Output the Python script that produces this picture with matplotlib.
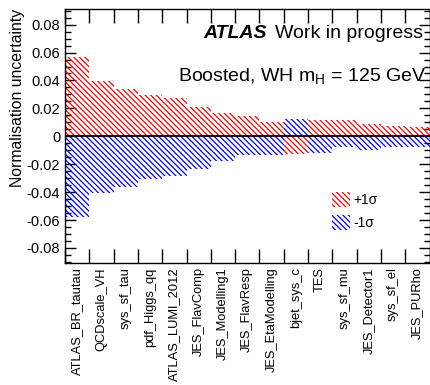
import matplotlib
matplotlib.use("Agg")
import matplotlib.pyplot as plt
import numpy as np
from matplotlib.ticker import FixedLocator, MultipleLocator, FuncFormatter
from matplotlib.patches import Patch

categories = ["ATLAS_BR_tautau", "QCDscale_VH", "sys_sf_tau", "pdf_Higgs_qq",
              "ATLAS_LUMI_2012", "JES_FlavComp", "JES_Modelling1", "JES_FlavResp",
              "JES_EtaModelling", "bjet_sys_c", "TES", "sys_sf_mu",
              "JES_Detector1", "sys_sf_el", "JES_PURho"]
up_values = [0.0566, 0.0394, 0.0337, 0.0294, 0.0277, 0.0208, 0.0168, 0.0143,
             0.0099, -0.0125, 0.0117, 0.0117, 0.0086, 0.0076, 0.0065]
down_values = [-0.0578, -0.0404, -0.0363, -0.0306, -0.0284, -0.0232, -0.0176, -0.0132,
               -0.0132, 0.0124, -0.0119, -0.0079, -0.0097, -0.0079, -0.0079]

plt.rcParams['font.family'] = ['Liberation Sans', 'DejaVu Sans']
plt.rcParams['hatch.linewidth'] = 0.9

fig = plt.figure(figsize=(4.3, 3.85), dpi=100)
ax = fig.add_axes([65/430, 1-263.3/385, (429.5-65)/430, (263.3-9.3)/385])

n = len(categories)
x = np.arange(n)
hatch = '\\\\\\\\\\\\'
ax.bar(x, up_values, width=1.0, align='center', facecolor='none', edgecolor='red',
       linewidth=0, hatch=hatch, zorder=2)
ax.bar(x, down_values, width=1.0, align='center', facecolor='none', edgecolor='blue',
       linewidth=0, hatch=hatch, zorder=2)
ax.axhline(0, color='black', lw=1.3, zorder=3)

ax.set_xlim(-0.5, n - 0.5)
ax.set_ylim(-0.091, 0.091)

ax.set_xticks(x)
ax.set_xticklabels(categories, rotation=90, fontsize=9.3)
ax.tick_params(axis='x', which='major', length=0, pad=3)
ax.xaxis.set_minor_locator(FixedLocator(np.arange(n + 1) - 0.5))
ax.tick_params(axis='x', which='minor', direction='in', length=10, width=1,
               top=True, bottom=True)

ax.yaxis.set_major_locator(MultipleLocator(0.02))
ax.yaxis.set_minor_locator(MultipleLocator(0.005))
ax.yaxis.set_major_formatter(FuncFormatter(lambda v, p: '0' if abs(v) < 1e-9 else f'{v:.2f}'))
ax.tick_params(axis='y', which='major', direction='in', length=8, width=1,
               left=True, right=True, labelsize=10.5)
ax.tick_params(axis='y', which='minor', direction='in', length=4, width=1,
               left=True, right=True)
for s in ax.spines.values():
    s.set_linewidth(1)

ax.set_ylabel("Normalisation uncertainty", fontsize=11.3, loc='top', labelpad=1)

ax.text(0.379, 0.887, "ATLAS", transform=ax.transAxes, fontsize=14,
        fontweight='bold', fontstyle='italic', ha='left', va='baseline')
ax.text(0.576, 0.887, "Work in progress", transform=ax.transAxes, fontsize=14,
        ha='left', va='baseline')
ax.text(0.31, 0.714, r"Boosted, WH m$_{\mathregular{H}}$ = 125 GeV", transform=ax.transAxes,
        fontsize=14, ha='left', va='baseline')

handles = [Patch(facecolor='none', edgecolor='red', hatch=hatch, linewidth=0, label='+1\u03c3'),
           Patch(facecolor='none', edgecolor='blue', hatch=hatch, linewidth=0, label='-1\u03c3')]
ax.legend(handles=handles, loc='upper left', bbox_to_anchor=(260/364.5, (263.3-185)/254),
          frameon=False, fontsize=10, handlelength=1.3, handleheight=1.3,
          handletextpad=0.25, labelspacing=0.55, borderpad=0)

fig.savefig("out.png", dpi=100)
